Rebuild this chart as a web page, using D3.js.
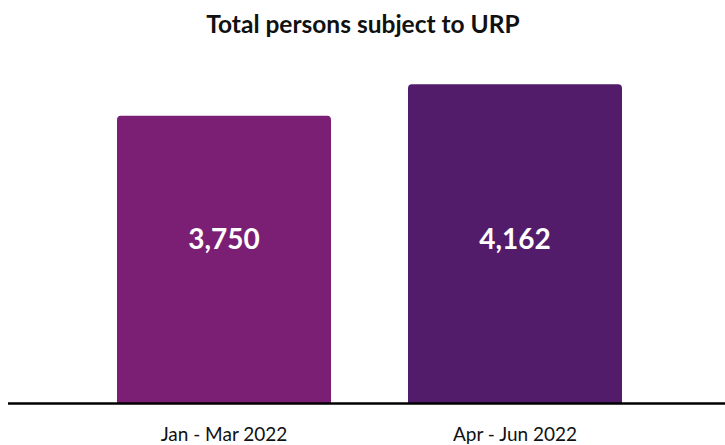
<!DOCTYPE html>
<html>
<head>
<meta charset="utf-8">
<script src="https://cdn.jsdelivr.net/npm/d3@7"></script>
<style>
  body { margin: 0; background: #fff; }
  text { font-family: Lato, "Open Sans", sans-serif; }
</style>
</head>
<body>
<div id="container"></div>
<script>
// Chart data
var categories = ["Jan - Mar 2022", "Apr - Jun 2022"];
var values = [3750, 4162];
var barColors = ["#7b1f74", "#521c6b"];
var title = "Total persons subject to URP";

var W = 725, H = 445;
var svg = d3.select("div#container")
  .append("svg")
  .attr("width", W)
  .attr("height", H);

var baseY = 403;
var x = d3.scaleBand().domain(categories).range([78.5, 660.5]).paddingInner(0.2646).paddingOuter(0.1323);
var y = d3.scaleLinear().domain([0, 4500]).range([baseY, 58.3]);

// rounded-top bar path
function barPath(x0, y0, w, h, r) {
  return "M" + x0 + "," + (y0 + h) +
    "V" + (y0 + r) +
    "Q" + x0 + "," + y0 + " " + (x0 + r) + "," + y0 +
    "H" + (x0 + w - r) +
    "Q" + (x0 + w) + "," + y0 + " " + (x0 + w) + "," + (y0 + r) +
    "V" + (y0 + h) + "Z";
}

svg.append("text")
  .attr("x", 363)
  .attr("y", 33)
  .attr("text-anchor", "middle")
  .attr("font-size", 24.5)
  .attr("font-weight", "bold")
  .attr("fill", "#111")
  .text(title);

var bars = svg.selectAll(".bar")
  .data(values)
  .enter().append("g")
  .attr("class", "bar");

bars.append("path")
  .attr("fill", function(d, i) { return barColors[i]; })
  .attr("d", function(d, i) {
    return barPath(x(categories[i]), y(d), x.bandwidth(), baseY - y(d), 4);
  });

bars.append("text")
  .attr("x", function(d, i) { return x(categories[i]) + x.bandwidth() / 2; })
  .attr("y", 249)
  .attr("text-anchor", "middle")
  .attr("font-size", 28)
  .attr("font-weight", "bold")
  .attr("fill", "#fff")
  .text(function(d) { return d3.format(",")(d); });

// x axis line + labels
svg.append("line")
  .attr("x1", 8).attr("x2", W)
  .attr("y1", baseY + 0.5).attr("y2", baseY + 0.5)
  .attr("stroke", "#000")
  .attr("stroke-width", 2.5);

svg.selectAll(".xlabel")
  .data(categories)
  .enter().append("text")
  .attr("class", "xlabel")
  .attr("x", function(d) { return x(d) + x.bandwidth() / 2; })
  .attr("y", 441)
  .attr("text-anchor", "middle")
  .attr("font-size", 19)
  .attr("fill", "#111")
  .text(function(d) { return d; });
</script>
</body>
</html>
